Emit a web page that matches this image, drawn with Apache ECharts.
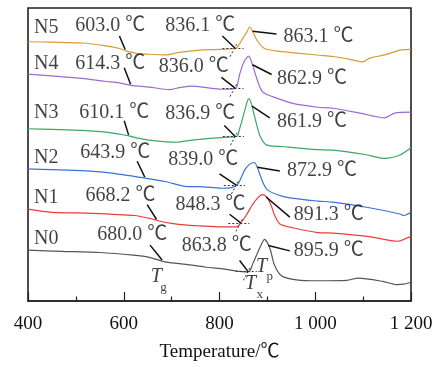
<!DOCTYPE html>
<html>
<head>
<meta charset="utf-8">
<script src="https://cdn.jsdelivr.net/npm/echarts@6/dist/echarts.min.js"></script>
<style>
  html, body { margin: 0; padding: 0; background: #fff; }
  #chart { width: 436px; height: 367px; }
</style>
</head>
<body>
<div id="chart"></div>
<script>
// DSC curves, temperature (℃) vs heat flow (arbitrary units, offset per sample)
const n0 = [[400,52.7],[470,51.5],[549,50.3],[620,47.5],[653,45.3],[689,40.3],[730,38],[769,35.3],[810,33],[852,30.3],[862,30.5],[869,38],[884,55],[894,64],[905,55],[915,37],[930,26],[961,22],[1005,21],[1066,21.5],[1090,23.7],[1141,20.3],[1170,17],[1185,17.5],[1200,19.5]];
const n1 = [[400,95.3],[450,92],[532,91],[622,88.7],[658,85.3],[674,83],[700,80.5],[733,78.7],[758,78],[804,77],[836,77],[846,82],[856,89],[869,100],[880,107],[890,110.3],[900,107],[908,99],[915,89],[926,80],[953,76],[1005,71],[1037,70.5],[1110,67],[1173,62],[1190,65],[1200,67]];
const n2 = [[400,137],[450,136.3],[513,135.3],[570,133],[639,128],[689,123.7],[733,118.7],[758,118.7],[804,117],[825,117.7],[838,121],[852,135.3],[863,142],[873,143.7],[879,138.7],[890,123.7],[900,115.3],[921,110.3],[947,107],[1005,103.7],[1037,102.5],[1110,97],[1177,90.3],[1185,88.7],[1200,92]];
const n3 = [[400,178.7],[450,178],[513,177],[570,174.7],[611,171.3],[630,169],[653,167],[710,164.7],[743,167],[794,169.3],[827,170.3],[837,171],[842,178.7],[848,189],[855,202],[861,210],[867,204],[873,192],[884,172],[898,162],[932,160.3],[1005,157],[1037,156.5],[1104,152],[1145,148],[1177,151.5],[1200,159]];
const n4 = [[400,235.3],[450,233.5],[513,231],[560,228],[591,226.3],[616,223.7],[653,222],[695,219.3],[716,221.3],[743,223],[773,221.3],[804,219.7],[827,220],[836,222],[842,235],[852,249],[861,254],[869,245],[879,229],[890,217],[911,212],[953,205],[1005,201],[1037,200],[1093,195],[1145,190],[1166,195],[1200,196]];
const n5 = [[400,269],[450,268.5],[513,267.7],[560,265],[591,262],[605,259.5],[625,257],[653,256],[689,255.3],[716,258],[758,260.3],[800,261],[830,262],[838,264],[848,272],[857,279],[863,284.3],[869,280],[879,270],[894,262],[926,259],[967,257],[1009,255],[1037,253.7],[1070,251],[1099,248],[1114,252],[1145,255.3],[1177,260.3],[1200,261]];

const names = ['N0', 'N1', 'N2', 'N3', 'N4', 'N5'];
const curves = [n0, n1, n2, n3, n4, n5];
const colors = ['#555555', '#ee3b3b', '#3a72d6', '#3aa866', '#9a6bd2', '#d69a3e'];

// characteristic temperatures (℃)
const tg = [680.0, 668.2, 643.9, 610.1, 614.3, 603.0];
const tx = [863.8, 848.3, 839.0, 836.9, 836.0, 836.1];
const tp = [895.9, 891.3, 872.9, 861.9, 862.9, 863.1];

const xTicks = [400, 600, 800, 1000, 1200];

// annotation layout, in axis units
const nameAt = [[438,65],[438,107],[438,149],[438,195],[438,246],[438,284]];
const tgTextAt = [[618,69],[593,109],[582,154],[580,195],[572,246],[572,286]];
const txTextAt = [[794,57],[781,100],[766,147],[760,194],[746,243],[760,286]];
const tpTextAt = [[1028,52],[1028,90],[1014,135],[993,186],[993,231],[1007,274]];
const tgTail = [[655,58],[649,100],[628,145],[601,187],[601,242],[591,275]];
const txTail = [[842,42],[821,90],[800,132],[810,182],[804,232],[806,275]];
const tpTail = [[947,52],[947,87],[926,135],[905,190],[909,235],[919,277]];

const SERIF = "'Liberation Serif', 'Times New Roman', 'Noto Sans CJK SC', serif";

function curveAt(data, t) {
  for (let i = 1; i < data.length; i++) {
    if (data[i][0] >= t) {
      const a = data[i - 1], b = data[i];
      return a[1] + (b[1] - a[1]) * (t - a[0]) / (b[0] - a[0]);
    }
  }
  return data[data.length - 1][1];
}

function note(text, pos, extra) {
  return {
    value: pos,
    label: Object.assign({
      show: true, position: 'inside', formatter: text,
      color: '#111', fontSize: 20, fontFamily: SERIF
    }, extra || {})
  };
}

const notes = [];
const arrows = [];
const tangents = [];
curves.forEach((c, i) => {
  notes.push(note(names[i], nameAt[i]));
  notes.push(note(tg[i].toFixed(1) + ' ℃', tgTextAt[i]));
  notes.push(note(tx[i].toFixed(1) + ' ℃', txTextAt[i]));
  notes.push(note(tp[i].toFixed(1) + ' ℃', tpTextAt[i]));

  const tgTip = [tg[i], curveAt(c, tg[i]) + 1];
  const txTip = [tx[i] - 4, curveAt(c, tx[i] - 4)];
  const tpTip = [tp[i] + 6, curveAt(c, tp[i] + 6)];
  arrows.push([{ coord: tgTail[i] }, { coord: tgTip }]);
  arrows.push([{ coord: txTail[i] }, { coord: txTip }]);
  arrows.push([{ coord: tpTail[i] }, { coord: tpTip }]);

  // onset construction: baseline extrapolation and rising-edge tangent
  const b = curveAt(c, tx[i] - 4);
  tangents.push([{ coord: [tx[i] - 30, b] }, { coord: [tx[i] + 14, b] }]);
  tangents.push([{ coord: [tx[i] - 14, b - 9] }, { coord: [tx[i] + 1, b + 5] }]);
});

// T_g, T_x, T_p symbols
notes.push(note('T', [668, 25], { fontStyle: 'italic' }));
notes.push(note('g', [683, 14], { fontSize: 13 }));
notes.push(note('T', [865, 18], { fontStyle: 'italic' }));
notes.push(note('x', [884, 7], { fontSize: 13 }));
notes.push(note('T', [888, 36], { fontStyle: 'italic' }));
notes.push(note('p', [905, 25], { fontSize: 13 }));

const chart = echarts.init(document.getElementById('chart'));

const series = curves.map((c, i) => ({
  name: names[i],
  type: 'line',
  data: c,
  smooth: 0.25,
  showSymbol: false,
  lineStyle: { width: 1.2, color: colors[i] },
  z: 2
}));

series.push({
  name: 'notes',
  type: 'scatter',
  data: notes,
  symbolSize: 1,
  itemStyle: { color: 'transparent' },
  silent: true,
  z: 5,
  markLine: {
    silent: true,
    symbol: ['none', 'arrow'],
    symbolSize: [0, 10],
    label: { show: false },
    lineStyle: { color: '#111', width: 1.5, type: 'solid' },
    data: arrows,
    animation: false
  }
});

series.push({
  name: 'tangents',
  type: 'line',
  data: [],
  markLine: {
    silent: true,
    symbol: 'none',
    label: { show: false },
    lineStyle: { color: '#333', width: 1, type: [2, 2] },
    data: tangents,
    animation: false
  }
});

chart.setOption({
  animation: false,
  grid: {
    left: 28, right: 25, top: 8, bottom: 55,
    show: true, borderColor: '#222', borderWidth: 1.6
  },
  xAxis: {
    type: 'value',
    min: 400,
    max: 1200,
    interval: 200,
    name: 'Temperature/℃',
    nameLocation: 'middle',
    nameGap: 42,
    nameTextStyle: { color: '#111', fontSize: 19, fontFamily: SERIF },
    axisLine: { lineStyle: { color: '#222', width: 1.6 } },
    axisTick: { inside: true, length: 9, lineStyle: { color: '#222', width: 1.2 } },
    minorTick: { show: true, splitNumber: 2, length: 4.5, lineStyle: { color: '#222', width: 1.2 } },
    splitLine: { show: false },
    axisLabel: {
      color: '#111', fontSize: 19, fontFamily: SERIF, margin: 14,
      formatter: v => xTicks.includes(v) ? String(v).replace(/\B(?=(\d{3})+$)/, ' ') : ''
    }
  },
  yAxis: {
    type: 'value',
    min: 0,
    max: 304,
    show: false
  },
  series
});
</script>
</body>
</html>
